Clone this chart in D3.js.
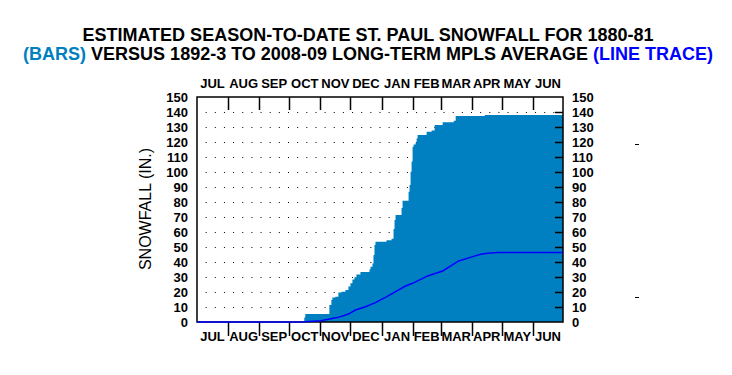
<!DOCTYPE html>
<html>
<head>
<meta charset="utf-8">
<script src="https://cdn.jsdelivr.net/npm/d3@7"></script>
<style>
  body { margin: 0; background: #fff; }
  svg { display: block; }
  text { font-family: "Liberation Sans", Arial, sans-serif; }
</style>
</head>
<body>
<svg id="chart" width="732" height="375"></svg>
<script>
// season runs Jul 1 1880 .. Jun 30 1881, x is day of season
var months = ["JUL","AUG","SEP","OCT","NOV","DEC","JAN","FEB","MAR","APR","MAY","JUN"];
var monthDays = [31,31,30,31,30,31,31,28,31,30,31,30];
var yTicks = [0,10,20,30,40,50,60,70,80,90,100,110,120,130,140,150];

// St. Paul 1880-81 season-to-date snowfall (bars), step changes
var barDay   = [0, 107, 108, 132, 134, 135, 138, 141, 144, 148, 151, 153, 155, 157, 159, 163, 172, 173, 175, 176, 177, 178, 189, 194, 196, 197, 198, 204, 205, 211, 212, 213, 214, 215, 216, 218, 219, 220, 229, 234, 237, 245, 256, 258, 287, 365];
var barTotal = [0, 3, 5.3, 11.3, 14.7, 16.4, 16.9, 19.6, 20.2, 21.3, 23.6, 25.8, 28.4, 29.8, 31.6, 33.3, 35, 36.9, 39, 44.7, 51.3, 53.5, 54.5, 55.5, 62, 68, 71.3, 76, 80.9, 86.9, 91.3, 100.2, 107, 116.9, 118.4, 119.6, 122.4, 124.7, 126.9, 127.6, 131.3, 133.1, 134.2, 137.3, 138, 138];

// long-term Minneapolis average (line trace)
var avgDay   = [0, 100, 108, 123, 131, 141, 151, 158, 168, 178, 183, 188, 198, 208, 215, 230, 245, 261, 275, 283, 290, 300, 365];
var avgTotal = [0, 0, 0.1, 0.9, 1.8, 3.1, 5.3, 8, 10.2, 12.9, 14.7, 16.4, 20.2, 24, 25.8, 30.7, 34, 40.7, 43.6, 45.1, 45.8, 46.4, 46.4];

var svg = d3.select("#chart");
var pLeft = 197, pRight = 563, pTop = 97, pBottom = 322;

var x = d3.scaleLinear().domain([0, 365]).range([pLeft, pRight]);
var y = d3.scaleLinear().domain([0, 150]).range([pBottom, pTop]);

var monthStart = [0];
monthDays.forEach(function(d, i) { monthStart.push(monthStart[i] + d); });

// title
var title = svg.append("g").attr("font-weight", "bold").attr("font-size", 18).attr("text-anchor", "middle");
title.append("text").attr("x", 368).attr("y", 41)
    .text("ESTIMATED SEASON-TO-DATE ST. PAUL SNOWFALL FOR 1880-81");
var t2 = title.append("text").attr("x", 368).attr("y", 60);
t2.append("tspan").attr("fill", "#0080c0").text("(BARS)");
t2.append("tspan").text(" VERSUS 1892-3 TO 2008-09 LONG-TERM MPLS AVERAGE ");
t2.append("tspan").attr("fill", "#0000ff").text("(LINE TRACE)");

// dotted grid
var dotStep = (pRight - pLeft) / 40;
svg.append("g").selectAll("line")
  .data(yTicks.filter(function(d) { return d > 0 && d < 150; }))
  .enter().append("line")
    .attr("x1", pLeft + dotStep - 0.5).attr("x2", pRight)
    .attr("y1", function(d) { return Math.round(y(d)) + 0.5; })
    .attr("y2", function(d) { return Math.round(y(d)) + 0.5; })
    .attr("stroke", "#000")
    .attr("stroke-dasharray", "1," + (dotStep - 1));

// bars (season-to-date steps)
var area = d3.area()
    .x(function(d, i) { return x(barDay[i]); })
    .y0(y(0))
    .y1(function(d) { return y(d); })
    .curve(d3.curveStepAfter);
svg.append("path")
    .attr("d", area(barTotal))
    .attr("fill", "#0080c0");

// right-side inner ticks
svg.append("g").selectAll("line")
  .data(yTicks.filter(function(d) { return d > 0 && d < 150; }))
  .enter().append("line")
    .attr("x1", pRight - 8).attr("x2", pRight)
    .attr("y1", function(d) { return Math.round(y(d)) + 0.5; })
    .attr("y2", function(d) { return Math.round(y(d)) + 0.5; })
    .attr("stroke", "#000").attr("stroke-width", 1.5);

// frame
svg.append("rect")
    .attr("x", pLeft).attr("y", pTop)
    .attr("width", pRight - pLeft).attr("height", pBottom - pTop)
    .attr("fill", "none").attr("stroke", "#000").attr("stroke-width", 1.5);

// month ticks: inside at top, outside at bottom
var inner = monthStart.slice(1, 12);
svg.append("g").selectAll("line").data(inner).enter().append("line")
    .attr("x1", function(d) { return Math.round(x(d)) + 0.5; })
    .attr("x2", function(d) { return Math.round(x(d)) + 0.5; })
    .attr("y1", pTop).attr("y2", pTop + 13)
    .attr("stroke", "#000").attr("stroke-width", 1.5);
svg.append("g").selectAll("line").data(inner).enter().append("line")
    .attr("x1", function(d) { return Math.round(x(d)) + 0.5; })
    .attr("x2", function(d) { return Math.round(x(d)) + 0.5; })
    .attr("y1", pBottom).attr("y2", pBottom + 14)
    .attr("stroke", "#000").attr("stroke-width", 1.5);

// average line
var line = d3.line()
    .x(function(d, i) { return x(avgDay[i]); })
    .y(function(d) { return y(d); });
svg.append("path")
    .attr("d", line(avgTotal))
    .attr("fill", "none")
    .attr("stroke", "#0000ff")
    .attr("stroke-width", 1.5);

// month labels
[83, 336].forEach(function(ly) {
  svg.append("g").selectAll("text").data(months).enter().append("text")
      .attr("x", function(d, i) { return x((monthStart[i] + monthStart[i + 1]) / 2); })
      .attr("y", ly)
      .attr("dy", "0.36em")
      .attr("text-anchor", "middle")
      .attr("font-size", 13).attr("font-weight", "bold")
      .text(function(d) { return d; });
});

// y tick labels, both sides
svg.append("g").selectAll("text").data(yTicks).enter().append("text")
    .attr("x", pLeft - 9).attr("y", function(d) { return y(d); })
    .attr("dy", "0.36em").attr("text-anchor", "end")
    .attr("font-size", 13).attr("font-weight", "bold")
    .text(function(d) { return d; });
svg.append("g").selectAll("text").data(yTicks).enter().append("text")
    .attr("x", pRight + 9).attr("y", function(d) { return y(d); })
    .attr("dy", "0.36em").attr("text-anchor", "start")
    .attr("font-size", 13).attr("font-weight", "bold")
    .text(function(d) { return d; });

// y axis title
svg.append("text")
    .attr("transform", "translate(151,209) rotate(-90)")
    .attr("text-anchor", "middle")
    .attr("font-size", 16)
    .text("SNOWFALL (IN.)");

// two stray dashes at right
svg.append("g").selectAll("line").data([144, 297]).enter().append("line")
    .attr("x1", 635).attr("x2", 639)
    .attr("y1", function(d) { return d + 0.5; }).attr("y2", function(d) { return d + 0.5; })
    .attr("stroke", "#000");
</script>
</body>
</html>
